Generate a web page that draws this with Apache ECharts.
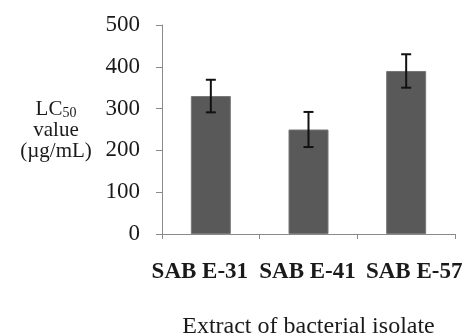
<!DOCTYPE html>
<html>
<head>
<meta charset="utf-8">
<script src="https://cdn.jsdelivr.net/npm/echarts@6/dist/echarts.min.js"></script>
<style>
  html, body { margin: 0; padding: 0; background: #fff; }
  #chart { width: 467px; height: 333px; }
</style>
</head>
<body>
<div id="chart"></div>
<script>
// LC50 of bacterial isolate extracts, with standard-deviation error bars
var isolates = ['SAB E-31', 'SAB E-41', 'SAB E-57'];
var lc50Values = [330, 250, 390];
var lc50Errors = [39, 42, 40];
var yTicks = { min: 0, max: 500, interval: 100 };

var serif = '"Liberation Serif", "Times New Roman", serif';
var textColor = '#1a1a1a';

var errorData = lc50Values.map(function (v, i) {
  return [i, v - lc50Errors[i], v + lc50Errors[i]];
});

// outer labels are nudged outward so the three bold names fit side by side
var labelBase = { fontFamily: serif, fontWeight: 'bold', fontSize: 23, color: textColor };
var labelRich = {
  first: Object.assign({ padding: [0, 22, 0, 0] }, labelBase),
  mid: Object.assign({ padding: [0, 2, 0, 0] }, labelBase),
  last: Object.assign({ padding: [0, 0, 0, 16] }, labelBase)
};

var chart = echarts.init(document.getElementById('chart'), null, { renderer: 'canvas' });

chart.setOption({
  animation: false,
  backgroundColor: '#ffffff',
  grid: { left: 162, right: 12, top: 25, bottom: 99, containLabel: false, outerBoundsMode: 'none' },
  xAxis: {
    type: 'category',
    data: isolates,
    boundaryGap: true,
    axisLine: { lineStyle: { color: '#8a8a8a', width: 1 } },
    axisTick: { show: true, length: 5, lineStyle: { color: '#8a8a8a' } },
    axisLabel: {
      interval: 0,
      hideOverlap: false,
      margin: 27,
      formatter: function (value, idx) {
        var key = idx === 0 ? 'first' : (idx === isolates.length - 1 ? 'last' : 'mid');
        return '{' + key + '|' + value + '}';
      },
      rich: labelRich
    },
    name: 'Extract of bacterial isolate',
    nameLocation: 'middle',
    nameGap: 81,
    nameTextStyle: { color: textColor, fontFamily: serif, fontSize: 24 }
  },
  yAxis: {
    type: 'value',
    min: yTicks.min,
    max: yTicks.max,
    interval: yTicks.interval,
    splitLine: { show: false },
    axisLine: { show: true, lineStyle: { color: '#8a8a8a', width: 1 } },
    axisTick: { show: true, length: 6, lineStyle: { color: '#8a8a8a' } },
    axisLabel: {
      color: textColor,
      fontFamily: serif,
      fontSize: 23,
      margin: 22
    }
  },
  graphic: [{
    type: 'text',
    x: 56,
    y: 99,
    style: {
      align: 'center',
      verticalAlign: 'top',
      rich: {
        t: { fontFamily: serif, fontSize: 21, fill: textColor, lineHeight: 21, align: 'center' },
        s: { fontFamily: serif, fontSize: 14, fill: textColor, lineHeight: 21, verticalAlign: 'bottom', padding: [6, 0, 0, 0] }
      },
      text: '{t|LC}{s|50}\n{t|value}\n{t|(µg/mL)}'
    }
  }],
  series: [
    {
      type: 'bar',
      data: lc50Values,
      barWidth: 40,
      itemStyle: { color: '#595959', borderColor: '#777777', borderWidth: 1 },
      z: 2
    },
    {
      type: 'custom',
      data: errorData,
      z: 3,
      renderItem: function (params, api) {
        var x = api.value(0);
        var lo = api.coord([x, api.value(1)]);
        var hi = api.coord([x, api.value(2)]);
        var half = 5;
        var style = { stroke: '#111111', lineWidth: 2 };
        return {
          type: 'group',
          children: [
            { type: 'line', shape: { x1: hi[0], y1: hi[1], x2: lo[0], y2: lo[1] }, style: style },
            { type: 'line', shape: { x1: hi[0] - half, y1: hi[1], x2: hi[0] + half, y2: hi[1] }, style: style },
            { type: 'line', shape: { x1: lo[0] - half, y1: lo[1], x2: lo[0] + half, y2: lo[1] }, style: style }
          ]
        };
      }
    }
  ]
});
</script>
</body>
</html>
